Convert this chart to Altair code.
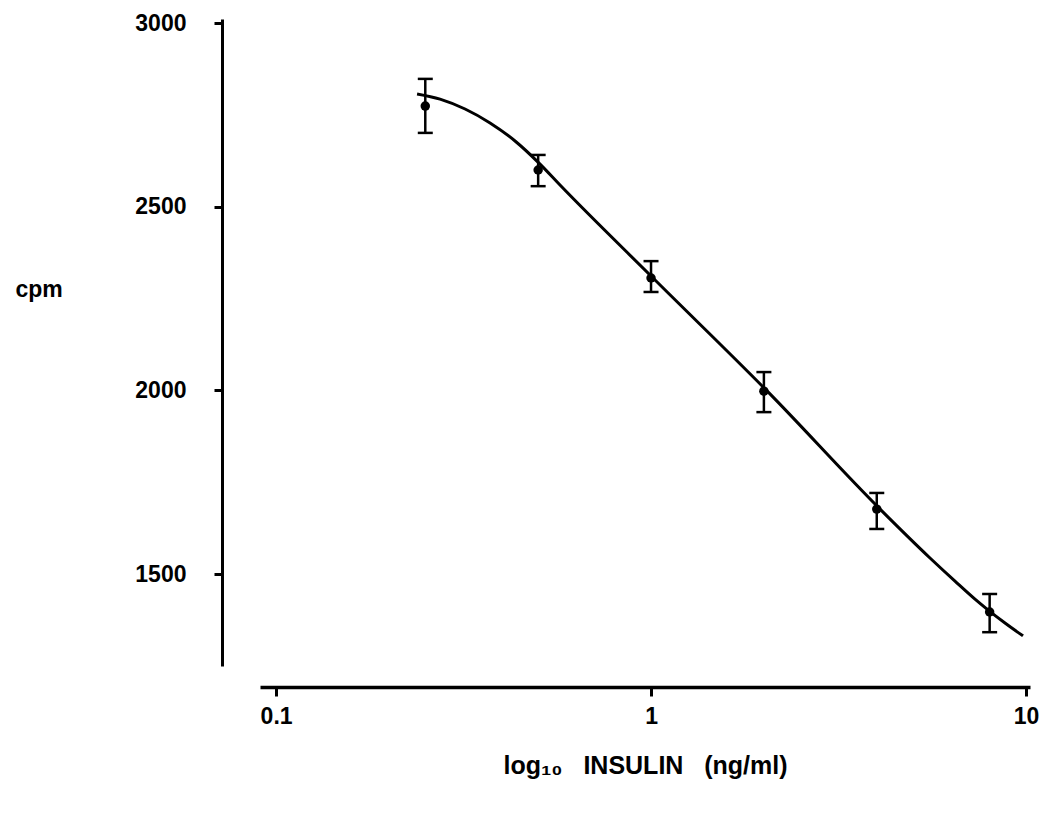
import altair as alt
import pandas as pd

# Data points (insulin ng/ml vs cpm) with error bar limits
conc = [0.25, 0.5, 1, 2, 4, 8]
cpm = [2774, 2600, 2306, 1998, 1677, 1397]
err_hi = [2848, 2641, 2352, 2050, 1721, 1446]
err_lo = [2701, 2556, 2268, 1941, 1623, 1342]

# Fitted curve
curve_x = [0.2377, 0.2737, 0.3192, 0.3721, 0.4338, 0.5058, 0.5718, 1.0124, 2.051,
           4.081, 5.546, 6.466, 7.311, 7.870, 8.790, 9.817]
curve_y = [2807, 2793, 2766, 2728, 2679, 2616, 2559, 2306, 1996,
           1677, 1544, 1481, 1432, 1405, 1367, 1332]

x_ticks = [0.1, 1, 10]
y_ticks = [1500, 2000, 2500, 3000]

pts = pd.DataFrame(dict(conc=conc, cpm=cpm, hi=err_hi, lo=err_lo))
cur = pd.DataFrame(dict(x=curve_x, y=curve_y))

FONT = "Liberation Sans"
FS = 23
TFS = 25

xscale = alt.Scale(type="log", domain=[0.0906, 10.25], nice=False)
yscale = alt.Scale(domain=[1250, 3011], nice=False, zero=False)

xaxis = alt.Axis(values=x_ticks, format="~g",
                 title="log\u2081\u2080\u00a0\u00a0\u00a0INSULIN\u00a0\u00a0\u00a0(ng/ml)",
                 offset=21, domainWidth=3.5, domainColor="black", tickWidth=3,
                 tickColor="black", tickSize=9, labelFontSize=FS, labelFont=FONT,
                 labelFontWeight="bold", labelColor="black", labelPadding=9,
                 titleFont=FONT, titleFontSize=TFS, titleFontWeight="bold",
                 titleColor="black", titlePadding=25, grid=False, labelFlush=False)

yaxis = alt.Axis(values=y_ticks, format="d", title="cpm", offset=38,
                 domainWidth=3, domainColor="black", tickWidth=3, tickColor="black",
                 tickSize=8, labelFontSize=FS, labelFont=FONT, labelFontWeight="bold",
                 labelColor="black", labelPadding=28, titleFont=FONT, titleFontSize=FS,
                 titleFontWeight="bold", titleColor="black", titleAngle=0,
                 titleAlign="left", titleBaseline="middle", titleX=-207, titleY=270,
                 grid=False)

curve = alt.Chart(cur).mark_line(color="black", strokeWidth=3, interpolate="monotone").encode(
    x=alt.X("x:Q", scale=xscale, axis=xaxis),
    y=alt.Y("y:Q", scale=yscale, axis=yaxis),
)

bars = alt.Chart(pts).mark_rule(color="black", strokeWidth=2.5).encode(
    x=alt.X("conc:Q", scale=xscale),
    y=alt.Y("lo:Q", scale=yscale),
    y2="hi:Q",
)

caps_hi = alt.Chart(pts).mark_tick(color="black", thickness=2.5, size=15, orient="horizontal", opacity=1).encode(
    x=alt.X("conc:Q", scale=xscale),
    y=alt.Y("hi:Q", scale=yscale),
)
caps_lo = alt.Chart(pts).mark_tick(color="black", thickness=2.5, size=15, orient="horizontal", opacity=1).encode(
    x=alt.X("conc:Q", scale=xscale),
    y=alt.Y("lo:Q", scale=yscale),
)

dots = alt.Chart(pts).mark_point(filled=True, color="black", size=90, opacity=1, shape="circle").encode(
    x=alt.X("conc:Q", scale=xscale),
    y=alt.Y("cpm:Q", scale=yscale),
)

chart = alt.layer(curve, bars, caps_hi, caps_lo, dots).properties(
    width=770, height=647,
    padding={"left": 15, "top": 12, "right": 5, "bottom": 5},
    background="white",
).configure_view(stroke=None)

chart.save("out.html", embed_options={"renderer": "svg", "actions": False})
